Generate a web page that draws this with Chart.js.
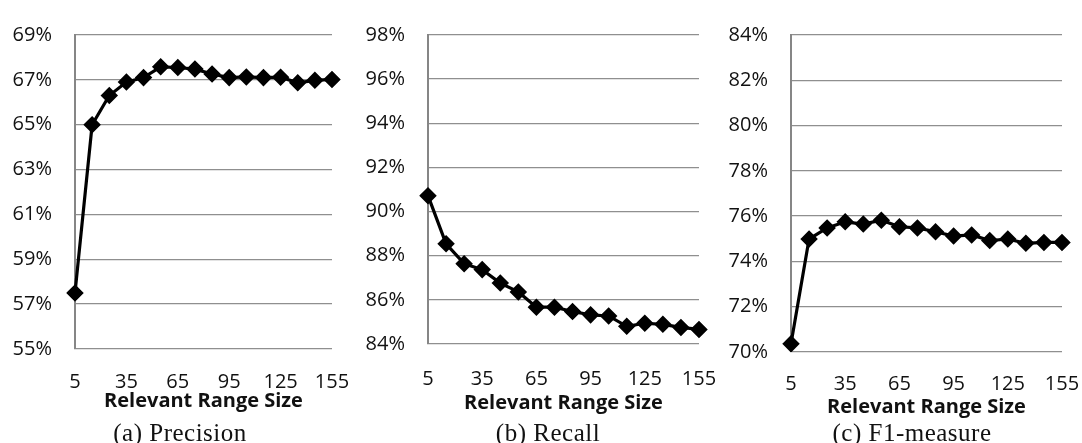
<!DOCTYPE html>
<html>
<head>
<meta charset="utf-8">
<script src="https://cdn.jsdelivr.net/npm/chart.js@4"></script>
<style>
  body { margin: 0; background: #fff; width: 1082px; height: 443px; position: relative; overflow: hidden; }
  .panel { position: absolute; top: 0; height: 443px; }
  .cap { position: absolute; top: 419px; font-family: "Liberation Serif", serif; font-size: 25px; letter-spacing: 0.5px; line-height: 28px; color: #111; white-space: nowrap; transform: translateX(-50%); }
</style>
</head>
<body>
<div class="panel" style="left:0px;width:360px"><canvas id="precision"></canvas></div>
<div class="panel" style="left:358px;width:370px"><canvas id="recall"></canvas></div>
<div class="panel" style="left:722px;width:360px"><canvas id="f1"></canvas></div>
<div class="cap" style="left:180px">(a) Precision</div>
<div class="cap" style="left:548px">(b) Recall</div>
<div class="cap" style="left:912px">(c) F1-measure</div>
<script>
const rangeSizes = ["5", "15", "25", "35", "45", "55", "65", "75", "85", "95", "105", "115", "125", "135", "145", "155"];
const precision = [57.5, 65.0, 66.3, 66.9, 67.1, 67.58, 67.55, 67.48, 67.26, 67.1, 67.13, 67.1, 67.12, 66.87, 66.98, 67.02];
const recall = [90.72, 88.54, 87.64, 87.37, 86.76, 86.36, 85.67, 85.67, 85.47, 85.32, 85.27, 84.8, 84.94, 84.89, 84.75, 84.66];
const f1 = [70.36, 74.99, 75.48, 75.75, 75.65, 75.82, 75.53, 75.48, 75.31, 75.12, 75.17, 74.92, 74.99, 74.8, 74.84, 74.84];
const precisionRange = [55, 69];
const recallRange = [84, 98];
const f1Range = [70, 84];

const tickFont = { family: "Open Sans", size: 20 };

// xH = height of the x axis box (ticks + title), fixed so the three panels line up like the original
// gap = space above the x labels (given as hidden tick length; ticks.padding would also widen the right edge)
function makeChart(id, values, range, yWidth, xH, pad, gap) {
    new Chart(id, {
        type: "line",
        data: {
            labels: rangeSizes,
            datasets: [{
                data: values,
                borderColor: "#000",
                backgroundColor: "#000",
                borderWidth: 3.2,
                pointStyle: "rectRot",
                pointRadius: 6.5,
                pointHoverRadius: 6.5,
                tension: 0
            }]
        },
        options: {
            responsive: true,
            maintainAspectRatio: false,
            animation: false,
            layout: { padding: pad },
            plugins: { legend: { display: false }, tooltip: { enabled: false } },
            scales: {
                x: {
                    afterFit: s => { s.height = xH; },
                    grid: { display: false, drawTicks: true, tickLength: gap },
                    border: { display: false },
                    ticks: {
                        autoSkip: false, maxRotation: 0, padding: 0,
                        color: "#111", font: tickFont,
                        callback: (v, i) => (i % 3 === 0 ? rangeSizes[i] : "")
                    },
                    title: {
                        display: true, text: "Relevant Range Size", color: "#111",
                        font: { family: "Open Sans", size: 20, weight: "bold" },
                        padding: 0
                    }
                },
                y: {
                    min: range[0], max: range[1],
                    afterFit: s => { s.width = yWidth; },
                    grid: { color: "#8f8f8f", lineWidth: 1.3, drawTicks: false },
                    border: { color: "#868686", width: 2 },
                    ticks: {
                        stepSize: 2, padding: 23, color: "#111", font: tickFont,
                        callback: v => v + "%"
                    }
                }
            }
        }
    });
}

makeChart("precision", precision, precisionRange, 75, 64, { top: 33, right: 28, bottom: 30, left: 0 }, 21);
makeChart("recall", recall, recallRange, 70, 71, { top: 21, right: 29, bottom: 28, left: 0 }, 23);
makeChart("f1", f1, f1Range, 69, 67, { top: 31, right: 20, bottom: 24, left: 0 }, 20);
</script>
</body>
</html>
